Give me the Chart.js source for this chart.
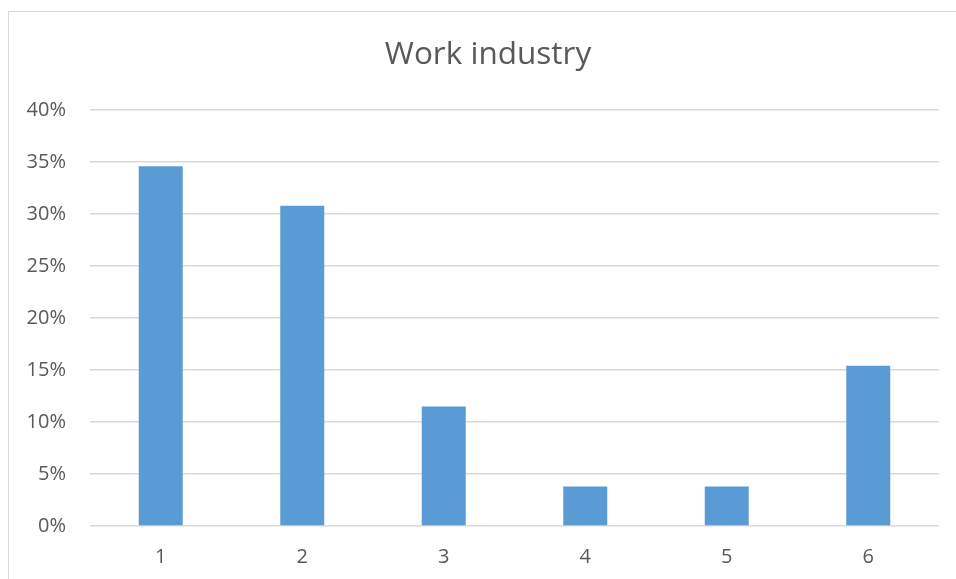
<!DOCTYPE html>
<html>
<head>
<meta charset="utf-8">
<script src="https://cdn.jsdelivr.net/npm/chart.js@4"></script>
<style>
    html, body { margin: 0; padding: 0; background: #fff; overflow: hidden; }
    #frame {
        position: absolute; left: 8px; top: 11px;
        width: 1000px; height: 620px;
        border: 1px solid #d9d9d9;
    }
    #wrap { position: absolute; left: 0; top: 0; width: 956px; height: 579px; }
</style>
</head>
<body>
<div id="frame"></div>
<div id="wrap"><canvas id="myChart"></canvas></div>
<script>
// Work industry shares, in percent
const TITLE = 'Work industry';
const CATEGORIES = ['1', '2', '3', '4', '5', '6'];
const SHARES = [34.6, 30.8, 11.5, 3.8, 3.8, 15.4];
const Y_MAX = 40;
const Y_STEP = 5;

const COLOUR_BAR = '#5b9bd5';
const COLOUR_TEXT = '#595959';
const COLOUR_GRID = '#d9d9d9';
const FONT = "'Open Sans', sans-serif";

// title is centred on the outer frame, not on the plot area
const frameTitle = {
    id: 'frameTitle',
    afterDraw(chart) {
        var c = chart.ctx;
        c.save();
        c.fillStyle = COLOUR_TEXT;
        c.font = "31.5px " + FONT;
        c.textAlign = 'center';
        c.textBaseline = 'alphabetic';
        c.fillText(TITLE, 488, 64);
        c.restore();
    }
};

var ctx = document.getElementById('myChart');
var myChart = new Chart(ctx, {
    type: 'bar',
    data: {
        labels: CATEGORIES,
        datasets: [{
            label: TITLE,
            data: SHARES,
            backgroundColor: COLOUR_BAR,
            borderWidth: 0,
            categoryPercentage: 1,
            barPercentage: 0.311
        }]
    },
    plugins: [frameTitle],
    options: {
        responsive: true,
        maintainAspectRatio: false,
        animation: false,
        layout: { padding: { left: 0, right: 17, top: 110, bottom: 0 } },
        plugins: {
            legend: { display: false },
            tooltip: { enabled: false },
            title: { display: false }
        },
        scales: {
            x: {
                grid: { display: false, drawTicks: false },
                border: { display: false },
                ticks: {
                    color: COLOUR_TEXT,
                    font: { family: FONT, size: 20 },
                    padding: 19
                },
                afterFit: (scale) => { scale.height = 53; }
            },
            y: {
                min: 0,
                max: Y_MAX,
                grid: { color: COLOUR_GRID, lineWidth: 1.5, drawTicks: false },
                border: { display: false },
                ticks: {
                    stepSize: Y_STEP,
                    color: COLOUR_TEXT,
                    font: { family: FONT, size: 20 },
                    padding: 24,
                    callback: (v) => v + '%'
                },
                afterFit: (scale) => { scale.width = 90; }
            }
        }
    }
});
</script>
</body>
</html>
